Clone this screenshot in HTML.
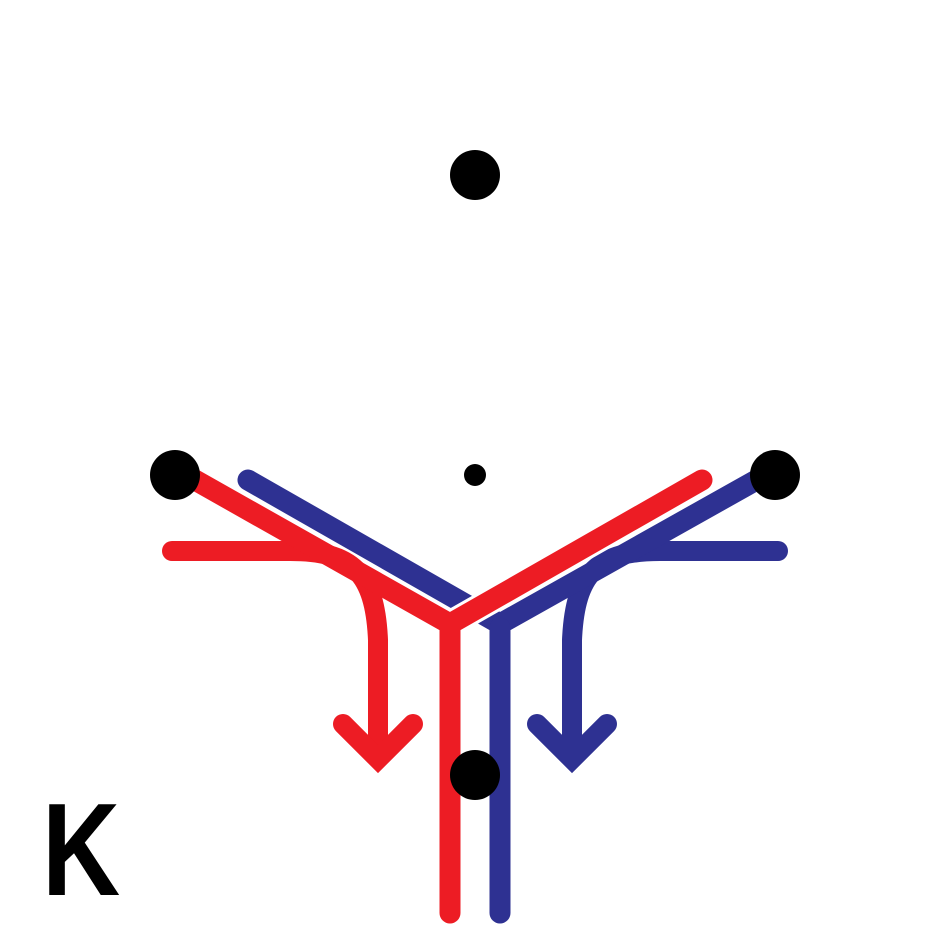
<!DOCTYPE html>
<html><head><meta charset="utf-8"><style>html,body{margin:0;padding:0;background:#fff}svg{display:block}</style></head>
<body>
<svg width="950" height="950" viewBox="0 0 950 950">
<g fill="none" stroke-linecap="round" stroke-linejoin="miter">
  <path d="M778,551 L660,551 C598,551 575,572 572,640 L572,758" stroke="#2E3192" stroke-width="20"/>
  <polyline points="537,724 572,759 607,724" stroke="#2E3192" stroke-width="20"/>
  <g>
    <polyline points="248,480 500,624 760,478" stroke="#2E3192" stroke-width="21"/>
    <line x1="500" y1="628" x2="500" y2="913" stroke="#2E3192" stroke-width="21"/>
  </g>
  <polyline points="195,480 450,624 702,480" stroke="#fff" stroke-width="27" stroke-linecap="butt"/>
  <path d="M172,551 L290,551 C352,551 375,572 378,640 L378,758" stroke="#ED1C24" stroke-width="20"/>
  <polyline points="343,724 378,759 413,724" stroke="#ED1C24" stroke-width="20"/>
  <g>
    <polyline points="195,480 450,624 702,480" stroke="#ED1C24" stroke-width="21"/>
    <line x1="450" y1="628" x2="450" y2="913" stroke="#ED1C24" stroke-width="21"/>
  </g>
</g>
<circle cx="475" cy="175" r="25" fill="#000"/>
<circle cx="175" cy="475" r="25" fill="#000"/>
<circle cx="775" cy="475" r="25" fill="#000"/>
<circle cx="475" cy="775" r="25" fill="#000"/>
<circle cx="475" cy="475" r="11" fill="#000"/>
<text x="0" y="0" transform="translate(42,895) scale(0.82,1)" font-family="'Liberation Sans',sans-serif" font-weight="bold" font-size="132" fill="#000">K</text>
</svg>
</body></html>
